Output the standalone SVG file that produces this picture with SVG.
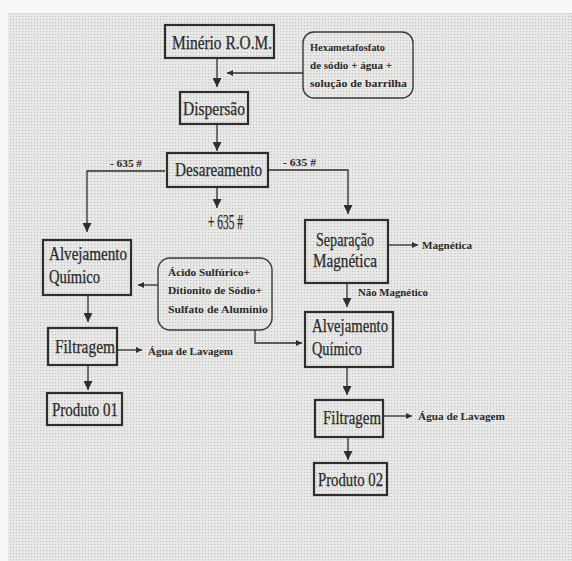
<svg xmlns="http://www.w3.org/2000/svg" width="572" height="561" viewBox="0 0 572 561">
<defs>
<pattern id="dots" width="3" height="3" patternUnits="userSpaceOnUse">
<rect width="3" height="3" fill="#e9e9e8"/>
<rect x="1" y="1" width="1.2" height="1.2" fill="#c2c2c2"/>
</pattern>
<marker id="ab" viewBox="0 0 10 10" refX="10" refY="5" markerWidth="9" markerHeight="9" markerUnits="userSpaceOnUse" orient="auto">
<path d="M0,0 L10,5 L0,10 z" fill="#2e2e2e"/>
</marker>
<marker id="as" viewBox="0 0 10 10" refX="10" refY="5" markerWidth="6" markerHeight="6" markerUnits="userSpaceOnUse" orient="auto">
<path d="M0,0 L10,5 L0,10 z" fill="#2e2e2e"/>
</marker>
</defs>
<style>
.box{fill:none;stroke:#2e2e2e;stroke-width:2.2}
.rbox{fill:none;stroke:#3a3a3a;stroke-width:1.4}
.t{font-family:"Liberation Serif","DejaVu Serif",serif;font-size:18.5px;fill:#2a2a2a;stroke:#2a2a2a;stroke-width:0.25}
.s{font-family:"Liberation Serif","DejaVu Serif",serif;font-size:11px;font-weight:bold;fill:#2a2a2a}
.c{fill:none;stroke:#2e2e2e;stroke-width:1.3}
</style>
<rect width="572" height="561" fill="#f8f8f6"/>
<rect x="8" y="13" width="564" height="548" fill="url(#dots)"/>

<g id="connectors">
<path class="c" d="M217,58 V87" marker-end="url(#ab)"/>
<path class="c" d="M303,73 H227" marker-end="url(#as)"/>
<path class="c" d="M217,124 V151" marker-end="url(#ab)"/>
<path class="c" d="M165,171 H87 V232" marker-end="url(#ab)"/>
<path class="c" d="M268,170 H348 V214" marker-end="url(#ab)"/>
<path class="c" d="M217,187 V208" marker-end="url(#ab)"/>
<path class="c" d="M388,245 H418" marker-end="url(#as)"/>
<path class="c" d="M347,283 V307" marker-end="url(#ab)"/>
<path class="c" d="M158,285 H138" marker-end="url(#as)"/>
<path class="c" d="M255,330 V343 H302" marker-end="url(#as)"/>
<path class="c" d="M88,295 V322" marker-end="url(#ab)"/>
<path class="c" d="M117,350 H142" marker-end="url(#as)"/>
<path class="c" d="M88,365 V390" marker-end="url(#ab)"/>
<path class="c" d="M347,367 V395" marker-end="url(#ab)"/>
<path class="c" d="M383,416 H412" marker-end="url(#as)"/>
<path class="c" d="M348,437 V460" marker-end="url(#ab)"/>
<text class="s" x="110" y="167" textLength="32" lengthAdjust="spacingAndGlyphs">- 635 #</text>
<text class="s" x="283" y="166" textLength="33" lengthAdjust="spacingAndGlyphs">- 635 #</text>
<text class="t" x="208" y="229" style="font-size:20px" textLength="35" lengthAdjust="spacingAndGlyphs">+ 635 #</text>
<text class="s" x="422" y="249" textLength="50" lengthAdjust="spacingAndGlyphs">Magnética</text>
<text class="s" x="358" y="296" textLength="70" lengthAdjust="spacingAndGlyphs">Não Magnético</text>
<text class="s" x="148" y="355" textLength="85" lengthAdjust="spacingAndGlyphs">Água de Lavagem</text>
<text class="s" x="418" y="420" textLength="87" lengthAdjust="spacingAndGlyphs">Água de Lavagem</text>
</g>

<g id="minerio">
<rect class="box" x="165" y="25" width="109" height="33"/>
<text class="t" x="172" y="49" textLength="100" lengthAdjust="spacingAndGlyphs">Minério R.O.M.</text>
</g>
<g id="hexametafosfato">
<rect class="rbox" x="303" y="32" width="110" height="66" rx="11"/>
<text class="s" x="310" y="51" textLength="75" lengthAdjust="spacingAndGlyphs">Hexametafosfato</text>
<text class="s" x="310" y="69" textLength="82" lengthAdjust="spacingAndGlyphs">de sódio + água +</text>
<text class="s" x="310" y="87" textLength="97" lengthAdjust="spacingAndGlyphs">solução de barrilha</text>
</g>
<g id="dispersao">
<rect class="box" x="180" y="92" width="68" height="32"/>
<text class="t" x="183" y="115" textLength="62" lengthAdjust="spacingAndGlyphs">Dispersão</text>
</g>
<g id="desareamento">
<rect class="box" x="167" y="153" width="101" height="34"/>
<text class="t" x="175" y="176" textLength="87" lengthAdjust="spacingAndGlyphs">Desareamento</text>
</g>
<g id="alvejamento1">
<rect class="box" x="43" y="240" width="88" height="55"/>
<text class="t" x="49" y="260" textLength="78" lengthAdjust="spacingAndGlyphs">Alvejamento</text>
<text class="t" x="49" y="283" textLength="51" lengthAdjust="spacingAndGlyphs">Químico</text>
</g>
<g id="acido">
<rect class="rbox" x="158" y="258" width="114" height="72" rx="12"/>
<text class="s" x="168" y="276" textLength="82" lengthAdjust="spacingAndGlyphs">Ácido Sulfúrico+</text>
<text class="s" x="168" y="294" textLength="94" lengthAdjust="spacingAndGlyphs">Ditionito de Sódio+</text>
<text class="s" x="168" y="313" textLength="100" lengthAdjust="spacingAndGlyphs">Sulfato de Alumínio</text>
</g>
<g id="filtragem1">
<rect class="box" x="48" y="328" width="69" height="37"/>
<text class="t" x="55" y="353" textLength="60" lengthAdjust="spacingAndGlyphs">Filtragem</text>
</g>
<g id="produto01">
<rect class="box" x="47" y="393" width="75" height="32"/>
<text class="t" x="52" y="416" textLength="66" lengthAdjust="spacingAndGlyphs">Produto 01</text>
</g>
<g id="separacao">
<rect class="box" x="305" y="220" width="83" height="63"/>
<text class="t" x="345" y="246" text-anchor="middle" textLength="58" lengthAdjust="spacingAndGlyphs">Separação</text>
<text class="t" x="345" y="267" text-anchor="middle" textLength="64" lengthAdjust="spacingAndGlyphs">Magnética</text>
</g>
<g id="alvejamento2">
<rect class="box" x="305" y="312" width="88" height="55"/>
<text class="t" x="312" y="332" textLength="76" lengthAdjust="spacingAndGlyphs">Alvejamento</text>
<text class="t" x="312" y="355" textLength="50" lengthAdjust="spacingAndGlyphs">Químico</text>
</g>
<g id="filtragem2">
<rect class="box" x="315" y="400" width="68" height="37"/>
<text class="t" x="323" y="424" textLength="58" lengthAdjust="spacingAndGlyphs">Filtragem</text>
</g>
<g id="produto02">
<rect class="box" x="314" y="463" width="73" height="32"/>
<text class="t" x="318" y="486" textLength="65" lengthAdjust="spacingAndGlyphs">Produto 02</text>
</g>
</svg>
